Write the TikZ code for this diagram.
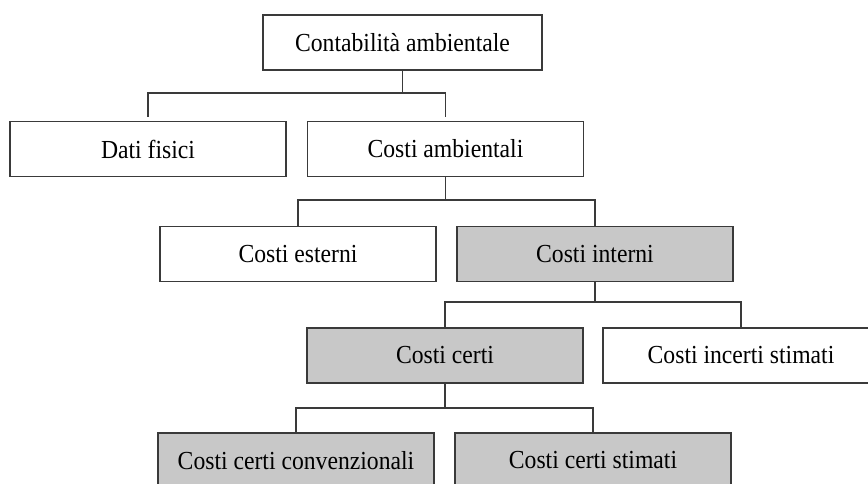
\documentclass[tikz,border=0pt]{standalone}
\usepackage{fontspec}
\setmainfont{Liberation Serif}[FakeStretch=0.91]
\definecolor{linec}{HTML}{3A3A3A}
\definecolor{boxgray}{HTML}{C8C8C8}
\begin{document}
\begin{tikzpicture}[x=1pt,y=-1pt,
  box/.style={draw=linec, line width=1.4pt, minimum width=276pt, minimum height=55pt, inner sep=0pt, font=\fontsize{26}{31}\selectfont},
  shaded/.style={box, fill=boxgray},
  conn/.style={draw=linec, line width=1.4pt}]
\useasboundingbox (0,0) rectangle (868,484);
\node[box, minimum width=279pt] (top) at (402.5,42.5) {Contabilità ambientale};
\node[box] (dati) at (148,149) {Dati fisici};
\node[box] (amb) at (445.5,149) {Costi ambientali};
\node[box] (est) at (298,254) {Costi esterni};
\node[shaded] (int) at (595,254) {Costi interni};
\node[shaded] (certi) at (445,355.5) {Costi certi};
\node[box] (incerti) at (741,355.5) {Costi incerti stimati};
\node[shaded] (conv) at (296,460.5) {Costi certi convenzionali};
\node[shaded] (stim) at (593,460.5) {Costi certi stimati};
\coordinate (b1) at (0,93);
\coordinate (b2) at (0,200);
\coordinate (b3) at (0,302);
\coordinate (b4) at (0,408);
% level 1
\draw[conn] (top.south) -- (top.south |- b1);
\draw[conn] ([yshift=4pt]dati.north) -- (dati.north |- b1) -- (amb.north |- b1) -- ([yshift=4pt]amb.north);
% level 2
\draw[conn] (amb.south) -- (amb.south |- b2);
\draw[conn] (est.north) -- (est.north |- b2) -- (int.north |- b2) -- (int.north);
% level 3
\draw[conn] (int.south) -- (int.south |- b3);
\draw[conn] (certi.north) -- (certi.north |- b3) -- (incerti.north |- b3) -- (incerti.north);
% level 4
\draw[conn] (certi.south) -- (certi.south |- b4);
\draw[conn] (conv.north) -- (conv.north |- b4) -- (stim.north |- b4) -- (stim.north);
\end{tikzpicture}
\end{document}
